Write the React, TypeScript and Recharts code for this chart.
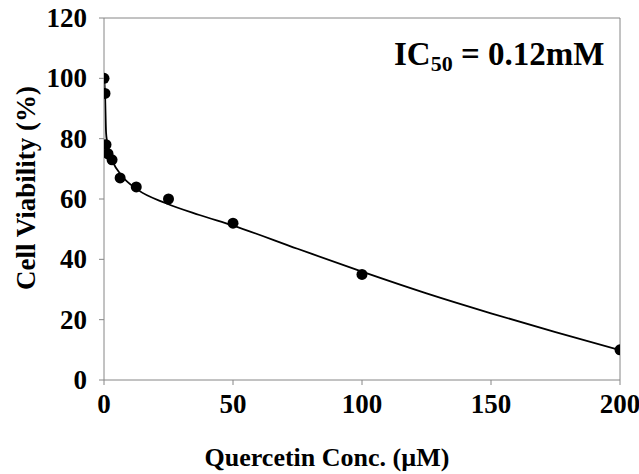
import React from "react";
import {
  ComposedChart,
  XAxis,
  YAxis,
  Line,
  Scatter,
  ReferenceLine,
  Label,
} from "recharts";

// measured points: quercetin concentration (µM) vs cell viability (%)
const concentrations = [0, 0.39, 0.78, 1.56, 3.125, 6.25, 12.5, 25, 50, 100, 200];
const viability = [100, 95, 78, 75, 73, 67, 64, 60, 52, 35, 10];

// fitted curve
const fitConc = [0, 0.4, 0.8, 1.2, 2, 3.4, 6.7, 13, 24, 37, 50, 75, 100, 125, 150, 175, 200];
const fitViability = [100, 95, 82, 79, 75.5, 72.3, 67.9, 63.1, 58.6, 54.7, 51.2, 43.5, 35.9, 28.7, 22.1, 15.9, 9.9];

const xTicks = [0, 50, 100, 150, 200];
const yTicks = [0, 20, 40, 60, 80, 100, 120];

const FONT = "Liberation Serif, Times New Roman, serif";
const AXIS = "#868686";

const points = concentrations.map((x, i) => ({ x, y: viability[i] }));
const curve = fitConc.map((x, i) => ({ x, y: fitViability[i] }));

const Tick = (props: any) => {
  const { x, y, payload, textAnchor, verticalAnchor } = props;
  const dy = verticalAnchor === "start" ? 20 : 9;
  return (
    <text
      x={x}
      y={y}
      dy={dy}
      textAnchor={textAnchor}
      fill="#000"
      style={{ fontFamily: FONT, fontSize: 27, fontWeight: 700 }}
    >
      {payload.value}
    </text>
  );
};

const Dot = (props: any) => <circle cx={props.cx} cy={props.cy} r={5.5} fill="#000" />;

export default function App() {
  return (
    <div
      style={{
        position: "absolute",
        left: 0,
        top: 0,
        width: 639,
        height: 474,
        background: "#fff",
        fontFamily: FONT,
      }}
    >
      <ComposedChart width={639} height={474} margin={{ top: 18, right: 19, bottom: 0, left: 0 }}>
        <XAxis
          type="number"
          dataKey="x"
          domain={[0, 200]}
          ticks={xTicks}
          allowDataOverflow
          height={94}
          stroke={AXIS}
          tickSize={5}
          tickMargin={8}
          tick={<Tick />}
        >
          <Label
            value="Quercetin Conc. (µM)"
            position="insideBottom"
            offset={8}
            dx={-35}
            fontFamily={FONT}
            fontSize={26}
            fontWeight={700}
            fill="#000"
          />
        </XAxis>
        <YAxis
          type="number"
          dataKey="y"
          domain={[0, 120]}
          ticks={yTicks}
          width={104}
          stroke={AXIS}
          tickSize={5}
          tickMargin={12}
          tick={<Tick />}
        >
          <Label
            value="Cell Viability (%)"
            position="center"
            angle={-90}
            dx={-27}
            dy={-11}
            fontFamily={FONT}
            fontSize={27}
            fontWeight={700}
            fill="#000"
          />
        </YAxis>
        <ReferenceLine y={120} stroke={AXIS} />
        <ReferenceLine x={200} stroke={AXIS} />
        <Line
          data={curve}
          dataKey="y"
          type="monotone"
          stroke="#000"
          strokeWidth={1.8}
          dot={false}
          isAnimationActive={false}
        />
        <Scatter data={points} dataKey="y" fill="#000" shape={Dot} isAnimationActive={false} />
      </ComposedChart>
      <div
        style={{
          position: "absolute",
          left: 394,
          top: 36,
          fontFamily: FONT,
          fontWeight: 700,
          fontSize: 33,
          lineHeight: "36px",
          whiteSpace: "nowrap",
        }}
      >
        IC<sub style={{ fontSize: 22, verticalAlign: "-6px" }}>50</sub> = 0.12mM
      </div>
    </div>
  );
}
